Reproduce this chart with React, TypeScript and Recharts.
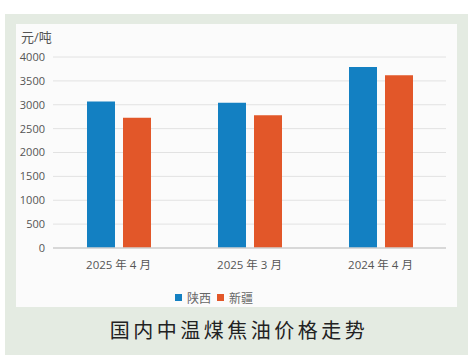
import React from 'react';
import { BarChart, Bar, XAxis, YAxis, CartesianGrid, Legend } from 'recharts';

const categories = ['2025 年 4 月', '2025 年 3 月', '2024 年 4 月'];
const shaanxi = [3070, 3040, 3790];
const xinjiang = [2730, 2780, 3620];
const yTicks = [0, 500, 1000, 1500, 2000, 2500, 3000, 3500, 4000];
const seriesNames = ['陕西', '新疆'];
const seriesColors = ['#1380c2', '#e25729'];

const data = categories.map((c, i) => ({ name: c, [seriesNames[0]]: shaanxi[i], [seriesNames[1]]: xinjiang[i] }));

const FONT = '"Open Sans", "Noto Sans CJK SC", sans-serif';

const LegendContent = () => (
  <div style={{ height: 29, paddingTop: 9, paddingRight: 36, boxSizing: 'border-box', display: 'flex', justifyContent: 'center', alignItems: 'flex-start' }}>
    {seriesNames.map((n, i) => (
      <div key={n} style={{ display: 'flex', alignItems: 'center', height: 20, marginRight: i === 0 ? 6 : 0 }}>
        <span style={{ display: 'inline-block', width: 7, height: 7, background: seriesColors[i], marginRight: 5 }} />
        <span style={{ fontSize: 12, color: '#666666', fontFamily: '"Noto Sans CJK SC", serif' }}>{n}</span>
      </div>
    ))}
  </div>
);

export default function App() {
  return (
    <div style={{ position: 'absolute', left: 0, top: 0, width: 474, height: 359, background: '#ffffff', fontFamily: FONT }}>
      <div style={{ position: 'absolute', left: 5, top: 14, width: 463, height: 341, background: '#e4ebe2' }} />
      <div style={{ position: 'absolute', left: 16, top: 24, width: 441, height: 283, background: '#fbfbfb' }}>
        <BarChart
          width={441}
          height={283}
          data={data}
          margin={{ top: 33, right: 11, left: 2, bottom: 0 }}
          barSize={28}
          barGap={8}
        >
          <CartesianGrid horizontal vertical={false} stroke="#e2e2e2" strokeWidth={1} />
          <XAxis
            dataKey="name"
            axisLine={{ stroke: '#d0d0d0', strokeWidth: 1.5 }}
            tickLine={false}
            height={30}
            tickMargin={7}
            tick={{ fontSize: 11.5, fill: '#555555', fontFamily: FONT }}
          />
          <YAxis
            domain={[0, 4000]}
            ticks={yTicks}
            axisLine={false}
            tickLine={false}
            width={35}
            tickMargin={2}
            tick={{ fontSize: 11, fill: '#555555', fontFamily: FONT }}
          />
          <Legend verticalAlign="bottom" align="center" content={<LegendContent />} />
          <Bar dataKey={seriesNames[0]} fill={seriesColors[0]} isAnimationActive={false} />
          <Bar dataKey={seriesNames[1]} fill={seriesColors[1]} isAnimationActive={false} />
        </BarChart>
      </div>
      <div style={{ position: 'absolute', left: 21, top: 27, fontSize: 13, color: '#555555', fontFamily: FONT }}>元/吨</div>
      <div style={{ position: 'absolute', left: 2, top: 315, width: 474, textAlign: 'center', fontSize: 20, letterSpacing: 3.5, color: '#222222', fontFamily: '"Noto Sans CJK SC", sans-serif' }}>
        国内中温煤焦油价格走势
      </div>
    </div>
  );
}
